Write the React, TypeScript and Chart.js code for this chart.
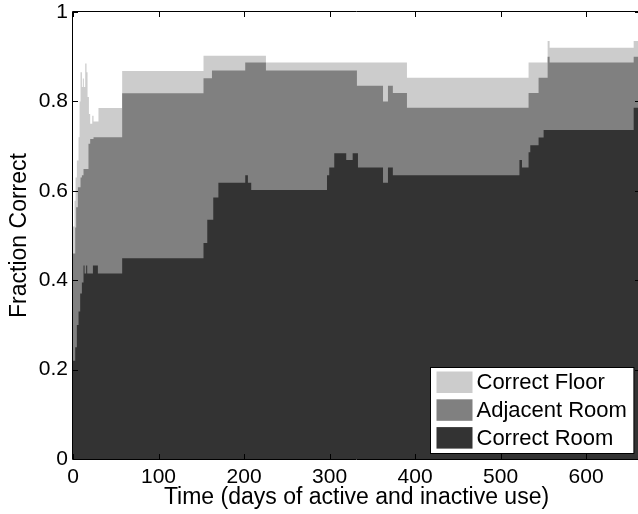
import React, { useEffect, useRef } from 'react';
import { Chart, registerables } from 'chart.js';

Chart.register(...registerables);

const FONT = '"Liberation Sans", Arial, Helvetica, sans-serif';

// ---- data ----
const X_MAX = 663;

const xTickValues = [0, 100, 200, 300, 400, 500, 600];
const xTickLabels = ['0', '100', '200', '300', '400', '500', '600'];
const yTickValues = [0, 0.2, 0.4, 0.6, 0.8, 1];
const yTickLabels = ['0', '0.2', '0.4', '0.6', '0.8', '1'];

const X_TITLE = 'Time (days of active and inactive use)';
const Y_TITLE = 'Fraction Correct';

const seriesLabels = ['Correct Room', 'Adjacent Room', 'Correct Floor'];
const seriesColors = ['#333333', '#808080', '#cccccc'];

// Correct Room (top of dark layer): step start days and fractions
const roomX = [0, 2.6, 4.5, 6.5, 8.4, 10.4, 12.3, 13.5, 15.4, 16.6, 23.3, 29.1, 57.5, 152.6, 157, 164, 170, 201.4, 204.5, 208.4, 297, 299.6, 305.5, 319.5, 327, 333.2, 362.5, 368.3, 374, 522, 525, 532.7, 534.7, 544.4, 550.3, 655.6];
const roomY = [0.22, 0.25, 0.3, 0.33, 0.37, 0.395, 0.433, 0.415, 0.433, 0.415, 0.433, 0.415, 0.449, 0.483, 0.535, 0.585, 0.618, 0.635, 0.618, 0.602, 0.635, 0.652, 0.684, 0.669, 0.684, 0.652, 0.618, 0.652, 0.635, 0.669, 0.652, 0.686, 0.702, 0.719, 0.736, 0.786];

// Correct Room + Adjacent Room (top of medium layer)
const adjacentX = [0, 2.6, 3.7, 5.7, 8.8, 10.4, 12.3, 18.1, 20.1, 24, 57.5, 152.6, 162.5, 201.4, 225.6, 332, 362.5, 368.3, 374, 390.5, 532.7, 544.4, 555, 557.3, 655.6];
const adjacentY = [0.46, 0.518, 0.563, 0.608, 0.63, 0.635, 0.649, 0.705, 0.716, 0.72, 0.818, 0.852, 0.869, 0.887, 0.869, 0.835, 0.8, 0.835, 0.819, 0.786, 0.819, 0.853, 0.9, 0.887, 0.9];

// Correct Room + Adjacent Room + Correct Floor (top of light layer)
const floorX = [0, 1.8, 3, 4.5, 6.5, 7.7, 8.8, 10.4, 11.5, 12.7, 14.3, 15.8, 17, 18.6, 20.1, 22.5, 24, 29.8, 57.5, 152.6, 225.6, 390.5, 532.7, 555, 557.3, 655.6];
const floorY = [0.52, 0.578, 0.63, 0.668, 0.72, 0.8, 0.865, 0.832, 0.851, 0.832, 0.885, 0.865, 0.81, 0.772, 0.75, 0.768, 0.755, 0.785, 0.868, 0.902, 0.887, 0.853, 0.887, 0.935, 0.92, 0.935];

function toPoints(xs: number[], ys: number[]) {
  const pts = xs.map((x, i) => ({ x, y: ys[i] }));
  pts.push({ x: X_MAX, y: ys[ys.length - 1] });
  return pts;
}

function zeroPadding(s: any) {
  s.paddingTop = 0;
  s.paddingBottom = 0;
  s.paddingLeft = 0;
  s.paddingRight = 0;
}

export default function App() {
  const ref = useRef<HTMLCanvasElement>(null);

  useEffect(() => {
    if (!ref.current) return;

    const framePlugin = {
      id: 'matlabFrame',
      afterDatasetsDraw(chart: any) {
        const { ctx, chartArea, scales } = chart;
        const { left, top, right, bottom } = chartArea;
        ctx.save();
        ctx.strokeStyle = '#000';
        ctx.lineWidth = 1;
        ctx.beginPath();
        ctx.moveTo(left - 0.5, top - 0.5);
        ctx.lineTo(right + 0.5, top - 0.5);
        ctx.lineTo(right + 0.5, bottom + 0.5);
        ctx.lineTo(left - 0.5, bottom + 0.5);
        ctx.closePath();
        const tl = 5;
        xTickValues.forEach((v) => {
          const px = Math.round(scales.x.getPixelForValue(v)) + 0.5;
          ctx.moveTo(px, bottom);
          ctx.lineTo(px, bottom - tl);
          ctx.moveTo(px, top);
          ctx.lineTo(px, top + tl);
        });
        yTickValues.forEach((v) => {
          const py = Math.round(scales.y.getPixelForValue(v)) + 0.5;
          ctx.moveTo(left, py);
          ctx.lineTo(left + tl, py);
          ctx.moveTo(right, py);
          ctx.lineTo(right - tl, py);
        });
        ctx.stroke();
        ctx.restore();
      },
    };

    const legendPlugin = {
      id: 'insideLegend',
      afterDraw(chart: any) {
        const { ctx, chartArea } = chart;
        const items = chart.data.datasets
          .map((d: any) => ({ label: d.label, color: d.backgroundColor }))
          .reverse();
        ctx.save();
        ctx.font = `22px ${FONT}`;
        const tw = Math.max(...items.map((it: any) => ctx.measureText(it.label).width));
        const padL = 6, sw = 36, gap = 4, padR = 7, padT = 4, rowH = 27.8, swH = 21.5;
        const w = padL + sw + gap + tw + padR;
        const h = 86;
        const bx = Math.round(chartArea.right - 7 - w) + 0.5;
        const by = Math.round(chartArea.bottom - 6 - h) + 0.5;
        ctx.fillStyle = '#fff';
        ctx.fillRect(bx, by, w, h);
        ctx.strokeStyle = '#000';
        ctx.lineWidth = 1;
        ctx.strokeRect(bx, by, w, h);
        items.forEach((it: any, i: number) => {
          const sy = by + padT + i * rowH;
          ctx.fillStyle = it.color;
          ctx.fillRect(bx + padL, sy, sw, swH);
          ctx.fillStyle = '#000';
          ctx.textBaseline = 'middle';
          ctx.textAlign = 'left';
          ctx.fillText(it.label, bx + padL + sw + gap, sy + swH / 2 + 1);
        });
        ctx.restore();
      },
    };

    const datasets = [
      { x: roomX, y: roomY },
      { x: adjacentX, y: adjacentY },
      { x: floorX, y: floorY },
    ].map((s, i) => ({
      label: seriesLabels[i],
      data: toPoints(s.x, s.y),
      backgroundColor: seriesColors[i],
      borderColor: 'rgba(0,0,0,0)',
      borderWidth: 0,
      pointRadius: 0,
      stepped: 'before' as const,
      fill: 'origin',
    }));

    const chart = new Chart(ref.current, {
      type: 'line',
      data: { datasets },
      options: {
        animation: false,
        responsive: false,
        events: [],
        layout: { padding: { top: 12, right: 2, left: 0, bottom: 0 } },
        plugins: {
          legend: { display: false },
          tooltip: { enabled: false },
        },
        scales: {
          x: {
            type: 'linear',
            min: 0,
            max: X_MAX,
            grid: { display: false, drawTicks: false },
            border: { display: false },
            afterBuildTicks: (s: any) => {
              s.ticks = xTickValues.map((v) => ({ value: v }));
            },
            ticks: {
              autoSkip: false,
              maxRotation: 0,
              padding: 6,
              color: '#000',
              font: { family: FONT, size: 21 },
              callback: (_v: any, i: number) => xTickLabels[i],
            },
            title: {
              display: true,
              text: X_TITLE,
              color: '#000',
              font: { family: FONT, size: 23 },
              padding: { top: 0, bottom: 3 },
            },
            afterFit: (s: any) => {
              s.height = 55;
              zeroPadding(s);
            },
          },
          y: {
            type: 'linear',
            min: 0,
            max: 1,
            grid: { display: false, drawTicks: false },
            border: { display: false },
            afterBuildTicks: (s: any) => {
              s.ticks = yTickValues.map((v) => ({ value: v }));
            },
            ticks: {
              padding: 5,
              color: '#000',
              font: { family: FONT, size: 21 },
              callback: (_v: any, i: number) => yTickLabels[i],
            },
            title: {
              display: true,
              text: Y_TITLE,
              color: '#000',
              font: { family: FONT, size: 23 },
              padding: { top: 6, bottom: 0 },
            },
            afterFit: (s: any) => {
              s.width = 73;
              zeroPadding(s);
            },
          },
        },
      },
      plugins: [framePlugin, legendPlugin],
    } as any);

    return () => chart.destroy();
  }, []);

  return (
    <div
      style={{
        position: 'fixed',
        left: 0,
        top: 0,
        width: 638,
        height: 514,
        overflow: 'hidden',
        background: '#fff',
      }}
    >
      <canvas ref={ref} width={642} height={514} style={{ display: 'block', width: 642, height: 514 }} />
    </div>
  );
}
